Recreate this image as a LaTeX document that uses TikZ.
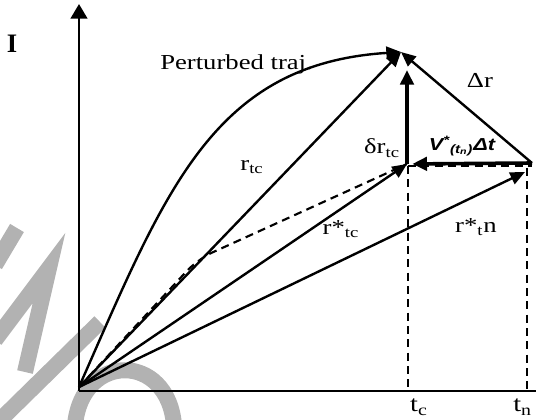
\documentclass[tikz,border=0pt]{standalone}
\usepackage{fontspec}
\setmainfont{Liberation Serif}
\newfontfamily\velfont{Liberation Sans}
\usepackage{graphicx}
\usetikzlibrary{arrows.meta, positioning}
\newcommand{\wtxt}[1]{\scalebox{1.25}[1]{#1}}

\tikzset{
  vec/.style={line width=1.8pt, -{Triangle[length=11pt,width=9.5pt]}},
  bigvec/.style={line width=2.7pt, -{Triangle[length=11pt,width=10pt]}},
  guide/.style={line width=2pt, dash pattern=on 6pt off 4pt},
  axisline/.style={line width=1.8pt},
  lbl/.style={font=\fontsize{16}{18}\selectfont, inner sep=0pt},
  wmark/.style={gray!60, line width=12pt}
}

\begin{document}
\begin{tikzpicture}[x=0.75pt, y=-0.75pt]
  \useasboundingbox (0,0) rectangle (536,419);

  % watermark strokes
  \draw[wmark] (17,228) -- (-5,265);
  \draw[wmark] (-5,340) -- (49,268) -- (25,372);
  \draw[wmark] (-5,425) -- (100,322);
  \draw[wmark] (75,425) .. controls (82,352) and (168,352) .. (174,425);

  % key points
  \coordinate (A) at (79,391);
  \coordinate (Ytop) at (79,4);
  \coordinate (Xend) at (540,391);
  \coordinate (O) at (79,387);
  \coordinate (P) at (401,52);
  \coordinate (Ptip) at (407,70);
  \coordinate (C) at (407,164);
  \coordinate (Bend) at (198,259);
  \coordinate (Cd) at (408,166);
  \coordinate (Tc) at (408,390);
  \coordinate (Vs) at (532,163);
  \coordinate (Vd) at (532,166);
  \coordinate (N) at (525,172);
  \coordinate (Nd) at (527,168);
  \coordinate (Tn) at (527,390);

  % axes
  \draw[axisline, -{Triangle[length=11pt,width=12.5pt]}] (A) -- (Ytop);
  \draw[axisline] (A) -- (Xend);

  % guide lines
  \draw[guide, line width=1.6pt, rounded corners=12pt] (O) -- (Bend) -- (C);
  \draw[guide] (Cd) -- (Tc);
  \draw[guide] (Cd) -- (Vd);
  \draw[guide] (Nd) -- (Tn);

  % vectors
  \draw[vec] (O) .. controls (165,192) and (212,64) .. (P);
  \draw[vec] (O) -- (P);
  \draw[vec] (O) -- (C);
  \draw[vec] (O) -- (N);
  \draw[vec] (Vs) -- (P);
  \draw[bigvec] (C) -- (Ptip);
  \draw[bigvec, shorten >=4pt] (Vs) -- (C);

  % labels
  \node[lbl, font=\fontsize{20}{22}\selectfont] (ylbl) at (12,44) {\textbf{I}};
  \node[lbl, anchor=west] (ptraj) at (160,64) {\wtxt{Perturbed traj.}};
  \node[lbl] (rtc) at (252,167) {\wtxt{r\textsubscript{tc}}};
  \node[lbl] (drtc) at (382,148) {\wtxt{δr\textsubscript{tc}}};
  \node[lbl] (dr) at (480,80) {\wtxt{Δr}};
  \node[lbl, font=\fontsize{13}{15}\selectfont\velfont\bfseries\itshape] (vdt) at (462,146)
    {\wtxt{V\textsuperscript{*}\textsubscript{(t\textsubscript{n})}Δt}};
  \node[lbl] (rstc) at (341,229) {\wtxt{r*\textsubscript{tc}}};
  \node[lbl] (rstn) at (476,227) {\wtxt{r*\textsubscript{t}n}};
  \node[lbl, font=\fontsize{17}{19}\selectfont] (tc) at (419,407) {\wtxt{t\textsubscript{c}}};
  \node[lbl, font=\fontsize{17}{19}\selectfont, anchor=west] (tn) at (513,407) {\wtxt{t\textsubscript{n}}};
\end{tikzpicture}
\end{document}
